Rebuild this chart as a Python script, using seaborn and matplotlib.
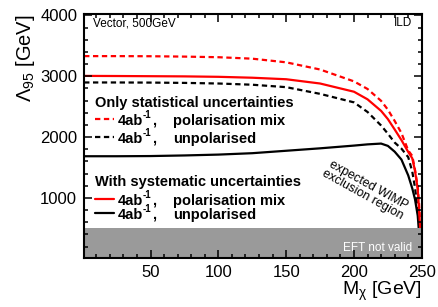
import numpy as np
import pandas as pd
import matplotlib
matplotlib.use("Agg")
import matplotlib.pyplot as plt
import seaborn as sns
from matplotlib.ticker import MultipleLocator

# dark matter mass grid (GeV)
m_chi = [1, 25, 50, 75, 100, 125, 150, 175, 200, 210, 220, 225, 230, 235, 240, 243, 245, 247, 248, 249]

# Lambda_95 limits (GeV)
stat_polmix = [3330, 3330, 3328, 3322, 3312, 3288, 3228, 3110, 2915, 2790, 2595, 2450, 2265, 2065, 1780, 1690, 1460, 1180, 900, 500]
stat_unpol = [2897, 2897, 2895, 2890, 2880, 2860, 2820, 2710, 2570, 2412, 2190, 2055, 1910, 1810, 1670, 1430, 1170, 800, 580, 350]
sys_polmix = [3005, 3003, 3000, 2997, 2990, 2975, 2950, 2880, 2745, 2620, 2430, 2295, 2125, 1950, 1755, 1650, 1445, 1146, 793, 430]
sys_unpol = [1685, 1685, 1688, 1698, 1712, 1735, 1775, 1815, 1860, 1880, 1893, 1855, 1760, 1630, 1370, 1155, 977, 708, 420, 200]

eft_limit = 500

sns.set_style("ticks")
plt.rcParams['font.family'] = ['Liberation Sans', 'DejaVu Sans']
plt.rcParams['mathtext.fontset'] = 'custom'
plt.rcParams['mathtext.rm'] = 'Liberation Sans'
plt.rcParams['mathtext.it'] = 'Liberation Sans:italic'
plt.rcParams['mathtext.bf'] = 'Liberation Sans:bold'
plt.rcParams['mathtext.default'] = 'rm'
for k in ['text.color', 'axes.labelcolor', 'xtick.color', 'ytick.color', 'axes.edgecolor']:
    plt.rcParams[k] = 'black'

fig = plt.figure(figsize=(4.38, 3.07), dpi=100)
ax = fig.add_axes([0.192, 0.160, 0.771, 0.794])

df = pd.DataFrame({"m": m_chi, "stat_pol": stat_polmix, "stat_unpol": stat_unpol,
                   "sys_pol": sys_polmix, "sys_unpol": sys_unpol})

dash = (2.4, 1.6)
sns.lineplot(data=df, x="m", y="stat_pol", ax=ax, color="#ff0000", lw=1.6, zorder=2)
sns.lineplot(data=df, x="m", y="stat_unpol", ax=ax, color="black", lw=1.6, zorder=2)
sns.lineplot(data=df, x="m", y="sys_unpol", ax=ax, color="black", lw=1.6, zorder=2)
sns.lineplot(data=df, x="m", y="sys_pol", ax=ax, color="#ff0000", lw=1.6, zorder=2)
for l in ax.lines[:2]:
    l.set_dashes(dash)

# EFT not valid band
ax.axhspan(0, eft_limit, color="#9a9a9a", lw=0, zorder=2.2)
ax.set_axisbelow(False)

ax.set_xlim(1, 250)
ax.set_ylim(15, 4020)
ax.xaxis.set_major_locator(MultipleLocator(50))
ax.xaxis.set_minor_locator(MultipleLocator(10))
ax.yaxis.set_major_locator(MultipleLocator(1000))
ax.yaxis.set_minor_locator(MultipleLocator(200))
ax.tick_params(which='both', direction='in', top=True, right=True, width=1.1, labelsize=12, color='black')
ax.tick_params(which='major', length=6, pad=5)
ax.tick_params(which='minor', length=3)
for s in ax.spines.values():
    s.set_linewidth(1.5)
    s.set_zorder(3)

ax.set_xlabel(r"M$_{\chi}$ [GeV]", fontsize=14, loc='right', labelpad=0)
ax.set_ylabel(r"$\Lambda_{95}$ [GeV]", fontsize=14.5, loc='top', labelpad=2)

tr = ax.transAxes
ax.text(0.026, 0.962, "Vector, 500GeV", transform=tr, fontsize=8.5, va='center')
ax.text(0.972, 0.962, "ILD", transform=tr, fontsize=8.5, va='center', ha='right')

# legend blocks
ax.text(0.0325, 0.643, "Only statistical uncertainties", transform=tr, fontsize=10.5, fontweight='bold', va='center_baseline')
ax.text(0.0325, 0.316, "With systematic uncertainties", transform=tr, fontsize=10.5, fontweight='bold', va='center_baseline')
rows = [(0.568, "#ff0000", dash, "polarisation mix"),
        (0.494, "black", dash, "unpolarised"),
        (0.241, "#ff0000", None, "polarisation mix"),
        (0.184, "black", None, "unpolarised")]
for y, c, d, lab in rows:
    ln, = ax.plot([0.032, 0.088], [y, y], transform=tr, color=c, lw=1.6, zorder=4)
    if d:
        ln.set_dashes(d)
    ax.text(0.100, y, "4ab", transform=tr, fontsize=10.5, fontweight='bold', va='center_baseline')
    ax.annotate("-1", xy=(0.100, y), xycoords=tr, xytext=(18, 1.0), textcoords='offset points',
                fontsize=7, fontweight='bold', va='baseline')
    ax.annotate(",", xy=(0.100, y), xycoords=tr, xytext=(24.5, 0), textcoords='offset points',
                fontsize=10.5, fontweight='bold', va='center_baseline')
    ax.text(0.263, y, lab, transform=tr, fontsize=10.5, fontweight='bold', va='center_baseline')

ax.text(0.834, 0.279, "expected WIMP\nexclusion region", transform=tr, fontsize=9,
        rotation=-29, ha='center', va='center', multialignment='center', rotation_mode='anchor',
        linespacing=1.0)
ax.text(0.970, 0.041, "EFT not valid", transform=tr, fontsize=8.5, color='white',
        ha='right', va='center', zorder=5)

plt.savefig("out.png", dpi=100)
